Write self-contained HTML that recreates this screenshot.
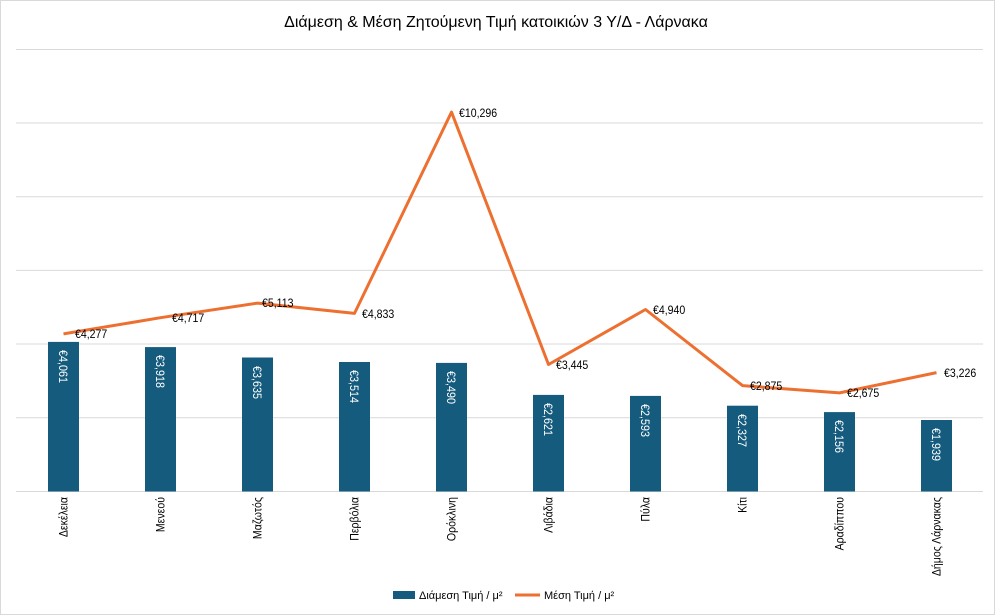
<!DOCTYPE html>
<html><head><meta charset="utf-8"><style>
html,body{margin:0;padding:0;background:#fff;}
svg{display:block;font-family:"Liberation Sans","DejaVu Sans",sans-serif;}
</style></head><body>
<svg width="995" height="615" viewBox="0 0 995 615">
<rect x="0.5" y="0.5" width="994" height="614" fill="#fff" stroke="#d9d9d9"/>
<text x="496" y="27" font-size="16" text-anchor="middle" fill="#000">Διάμεση &amp; Μέση Ζητούμενη  Τιμή κατοικιών 3 Υ/Δ - Λάρνακα</text>
<g stroke="#d9d9d9" stroke-width="1">
<line x1="16" x2="983" y1="49.5" y2="49.5"/>
<line x1="16" x2="983" y1="123" y2="123"/>
<line x1="16" x2="983" y1="196.8" y2="196.8"/>
<line x1="16" x2="983" y1="270.4" y2="270.4"/>
<line x1="16" x2="983" y1="344" y2="344"/>
<line x1="16" x2="983" y1="417.8" y2="417.8"/>
<line x1="16" x2="983" y1="491.5" y2="491.5"/>
</g>
<g fill="#155b7d">
<rect x="48" y="341.9" width="31" height="149.6"/>
<rect x="145" y="347.1" width="31" height="144.4"/>
<rect x="242" y="357.5" width="31" height="134"/>
<rect x="339" y="362" width="31" height="129.5"/>
<rect x="436" y="362.9" width="31" height="128.6"/>
<rect x="533" y="394.9" width="31" height="96.6"/>
<rect x="630" y="395.9" width="31" height="95.6"/>
<rect x="727" y="405.7" width="31" height="85.8"/>
<rect x="824" y="412.1" width="31" height="79.4"/>
<rect x="921" y="420" width="31" height="71.5"/>
</g>
<g fill="#fff" font-size="12">
<text transform="translate(59,350) rotate(90) scale(0.9,1)">€4,061</text>
<text transform="translate(156,355) rotate(90) scale(0.9,1)">€3,918</text>
<text transform="translate(253,366) rotate(90) scale(0.9,1)">€3,635</text>
<text transform="translate(350,370) rotate(90) scale(0.9,1)">€3,514</text>
<text transform="translate(447,371) rotate(90) scale(0.9,1)">€3,490</text>
<text transform="translate(544,403) rotate(90) scale(0.9,1)">€2,621</text>
<text transform="translate(641,404) rotate(90) scale(0.9,1)">€2,593</text>
<text transform="translate(738,414) rotate(90) scale(0.9,1)">€2,327</text>
<text transform="translate(835,420) rotate(90) scale(0.9,1)">€2,156</text>
<text transform="translate(932,428) rotate(90) scale(0.9,1)">€1,939</text>
</g>
<polyline fill="none" stroke="#ed7030" stroke-width="3" stroke-linejoin="round" points="63.5,333.9 160.5,317.7 257.5,303.1 354.5,313.4 451.5,112.1 548.5,364.5 645.5,309.5 742.5,385.6 839.5,392.9 936.5,372.6"/>
<g fill="#000" font-size="12">
<text transform="translate(75,338) scale(0.88,1)">€4,277</text>
<text transform="translate(172,322) scale(0.88,1)">€4,717</text>
<text transform="translate(262,307) scale(0.88,1)">€5,113</text>
<text transform="translate(362,318) scale(0.88,1)">€4,833</text>
<text transform="translate(459,117) scale(0.88,1)">€10,296</text>
<text transform="translate(556,369) scale(0.88,1)">€3,445</text>
<text transform="translate(653,314) scale(0.88,1)">€4,940</text>
<text transform="translate(750,390) scale(0.88,1)">€2,875</text>
<text transform="translate(847,397) scale(0.88,1)">€2,675</text>
<text transform="translate(944,377) scale(0.88,1)">€3,226</text>
</g>
<g fill="#000" font-size="12" text-anchor="end">
<text transform="translate(67.5,497) rotate(-90) scale(0.88,1)">Δεκέλεια</text>
<text transform="translate(164.5,497) rotate(-90) scale(0.88,1)">Μενεού</text>
<text transform="translate(261.5,497) rotate(-90) scale(0.88,1)">Μαζωτός</text>
<text transform="translate(358.5,497) rotate(-90) scale(0.88,1)">Περβόλια</text>
<text transform="translate(455.5,497) rotate(-90) scale(0.88,1)">Ορόκλινη</text>
<text transform="translate(552.5,497) rotate(-90) scale(0.88,1)">Λιβάδια</text>
<text transform="translate(649.5,497) rotate(-90) scale(0.88,1)">Πύλα</text>
<text transform="translate(746.5,497) rotate(-90) scale(0.88,1)">Κίτι</text>
<text transform="translate(843.5,497) rotate(-90) scale(0.88,1)">Αραδίππου</text>
<text transform="translate(940.5,497) rotate(-90) scale(0.88,1)">Δήμος Λάρνακας</text>
</g>
<rect x="393" y="591" width="22" height="8" fill="#155b7d"/>
<text x="419" y="599" font-size="11" fill="#000">Διάμεση Τιμή / μ²</text>
<line x1="515" x2="540" y1="595" y2="595" stroke="#ed7030" stroke-width="3"/>
<text x="544" y="599" font-size="11" fill="#000">Μέση Τιμή / μ²</text>
</svg>
</body></html>
